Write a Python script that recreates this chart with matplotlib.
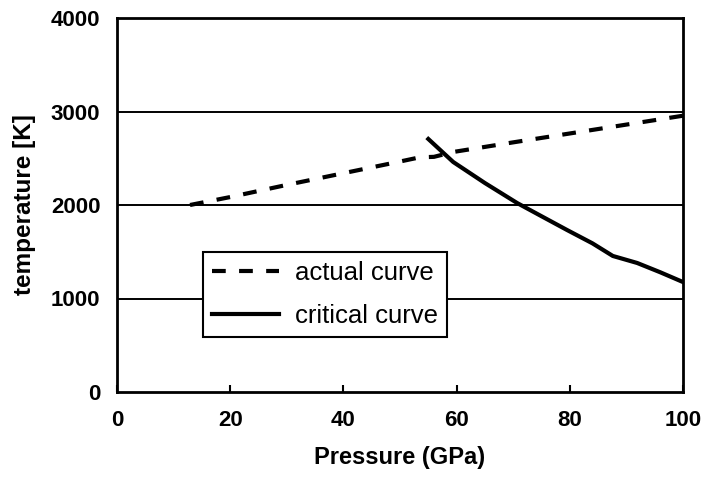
import numpy as np
import matplotlib.pyplot as plt

plt.rcParams['font.family'] = ['Liberation Sans', 'DejaVu Sans']

# actual curve (dashed)
actual_p = [12.9, 20, 30, 40, 50, 53.5, 56, 59.4, 70, 80, 90, 100]
actual_t = [2000, 2085, 2215, 2340, 2465, 2510, 2515, 2567, 2670, 2765, 2860, 2955]

# critical curve (solid)
critical_p = [55, 59.4, 65, 70.7, 75, 79.5, 84, 87.6, 91.9, 96, 100]
critical_t = [2706, 2460, 2235, 2021, 1880, 1733, 1590, 1455, 1380, 1280, 1176]

x_ticks = [0, 20, 40, 60, 80, 100]
y_ticks = [0, 1000, 2000, 3000, 4000]

fig = plt.figure(figsize=(7.02, 4.78), dpi=100)
ax = fig.add_axes([117 / 702, 1 - 392 / 478, 566 / 702, 374 / 478])

ax.plot(actual_p, actual_t, color='black', lw=3, ls=(0, (3.3, 3.2)), label='actual curve')
ax.plot(critical_p, critical_t, color='black', lw=3, label='critical curve')

ax.set_xlim(0, 100)
ax.set_ylim(0, 4000)
ax.set_xticks(x_ticks)
ax.set_yticks(y_ticks)
for y in y_ticks[1:-1]:
    ax.axhline(y, color='black', lw=1.4, zorder=0)

for s in ax.spines.values():
    s.set_linewidth(2)
ax.tick_params(axis='x', direction='in', length=5, width=1.5, pad=13, labelsize=16)
ax.tick_params(axis='y', length=0, pad=12, labelsize=16)
for lbl in ax.get_xticklabels() + ax.get_yticklabels():
    lbl.set_fontweight('bold')

ax.set_xlabel('Pressure (GPa)', fontsize=17, fontweight='bold', labelpad=11)
ax.set_ylabel('temperature [K]', fontsize=17.5, fontweight='bold', labelpad=11)

leg = ax.legend(loc='upper left', bbox_to_anchor=(0.152, 0.374), fontsize=18.5,
                fancybox=False, framealpha=1, edgecolor='black',
                handlelength=2.6, handletextpad=0.62, borderpad=0.35,
                labelspacing=0.72, borderaxespad=0)
leg.get_frame().set_linewidth(1.5)

fig.savefig('out.png', dpi=100)
